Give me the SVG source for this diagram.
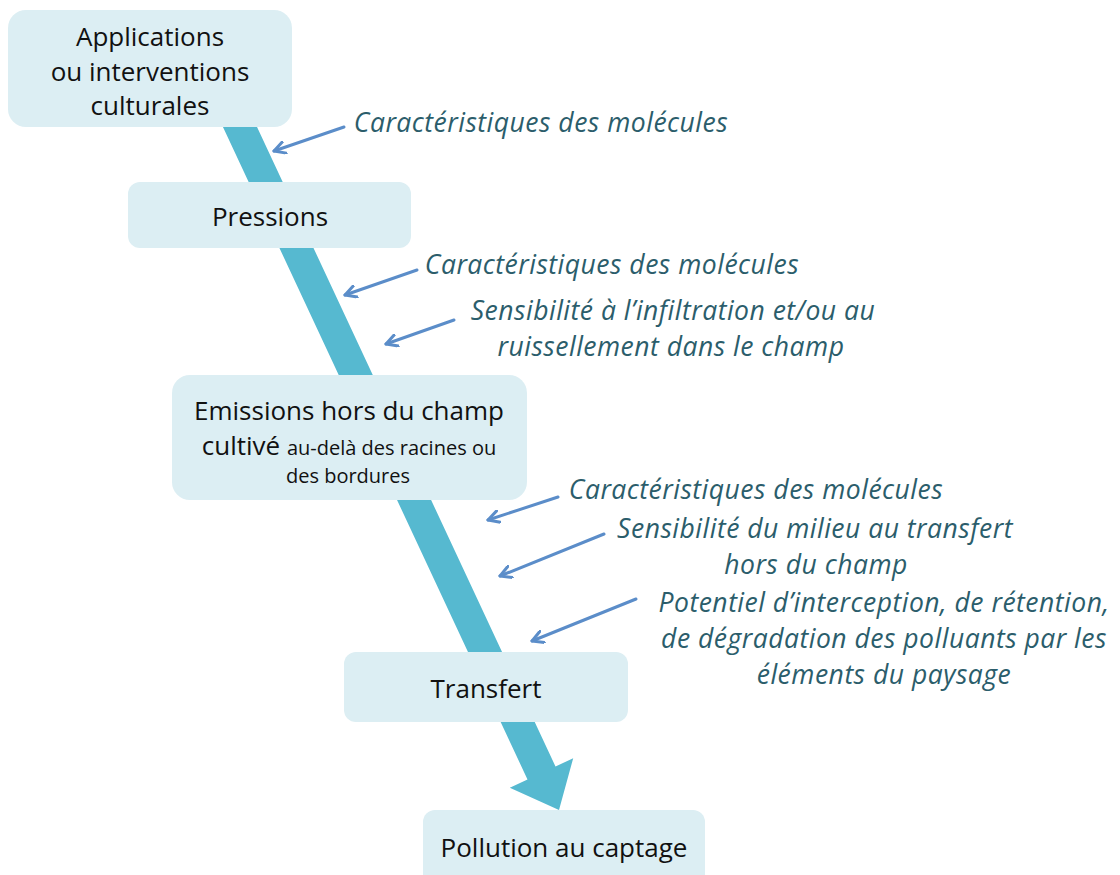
<svg xmlns="http://www.w3.org/2000/svg" width="1120" height="875" viewBox="0 0 1120 875">
<defs>
<style>
.box{fill:#DCEEF3;}
.bt{font-family:"Open Sans",Lato,"Liberation Sans",sans-serif;font-size:26px;fill:#111;text-anchor:middle;}
.sm{font-size:20px;}
.lbl{font-family:"Open Sans",Lato,"Liberation Sans",sans-serif;font-style:italic;font-size:26.5px;letter-spacing:0.5px;fill:#2B5D6B;text-anchor:middle;}
.sa{stroke:#5B8DC9;stroke-width:3;fill:none;stroke-linecap:round;marker-end:url(#ah);}
</style>
<marker id="ah" viewBox="0 0 14 14" refX="12" refY="7" markerWidth="14" markerHeight="14" markerUnits="userSpaceOnUse" orient="auto">
<path d="M1,1 L12,7 L1,13" fill="none" stroke="#5B8DC9" stroke-width="3" stroke-linecap="round" stroke-linejoin="round"/>
</marker>
</defs>
<rect width="1120" height="875" fill="#fff"/>
<g id="connectors">
<polygon id="flow" points="241.4,93.5 555.5,766.5 573.2,758.2 559,810 509.8,787.8 527.5,779.5 213.4,106.5" fill="#56B9D0"/>
<line class="sa" x1="344" y1="127" x2="274" y2="151"/>
<line class="sa" x1="417" y1="270" x2="345" y2="295"/>
<line class="sa" x1="454" y1="320" x2="386" y2="344"/>
<line class="sa" x1="558" y1="497" x2="488" y2="520"/>
<line class="sa" x1="604" y1="534" x2="500" y2="576"/>
<line class="sa" x1="636" y1="599" x2="532" y2="641"/>
</g>
<g id="n1"><rect class="box" x="8" y="10" width="284" height="117" rx="18"/>
<text class="bt" x="150" y="46">Applications</text>
<text class="bt" x="150" y="81">ou interventions</text>
<text class="bt" x="150" y="115">culturales</text></g>
<g id="n2"><rect class="box" x="128" y="182" width="283" height="66" rx="12"/>
<text class="bt" x="270" y="226">Pressions</text></g>
<g id="n3"><rect class="box" x="172" y="375" width="355" height="125" rx="18"/>
<text class="bt" x="349" y="420">Emissions hors du champ</text>
<text class="bt" x="349" y="455"><tspan>cultivé </tspan><tspan class="sm">au-delà des racines ou</tspan></text>
<text class="bt sm" x="348" y="483">des bordures</text></g>
<g id="n4"><rect class="box" x="344" y="652" width="284" height="70" rx="12"/>
<text class="bt" x="486" y="698">Transfert</text></g>
<g id="n5"><rect class="box" x="423" y="810" width="282" height="80" rx="12"/>
<text class="bt" x="564" y="857">Pollution au captage</text></g>
<g id="labels">
<text class="lbl" x="541" y="132">Caractéristiques des molécules</text>
<text class="lbl" x="612" y="274">Caractéristiques des molécules</text>
<text class="lbl" x="673" y="320">Sensibilité à l’infiltration et/ou au</text>
<text class="lbl" x="671" y="356">ruissellement dans le champ</text>
<text class="lbl" x="756" y="499">Caractéristiques des molécules</text>
<text class="lbl" x="815" y="538">Sensibilité du milieu au transfert</text>
<text class="lbl" x="816" y="574">hors du champ</text>
<text class="lbl" x="884" y="612">Potentiel d’interception, de rétention,</text>
<text class="lbl" x="884" y="648">de dégradation des polluants par les</text>
<text class="lbl" x="884" y="684">éléments du paysage</text>
</g>
</svg>
